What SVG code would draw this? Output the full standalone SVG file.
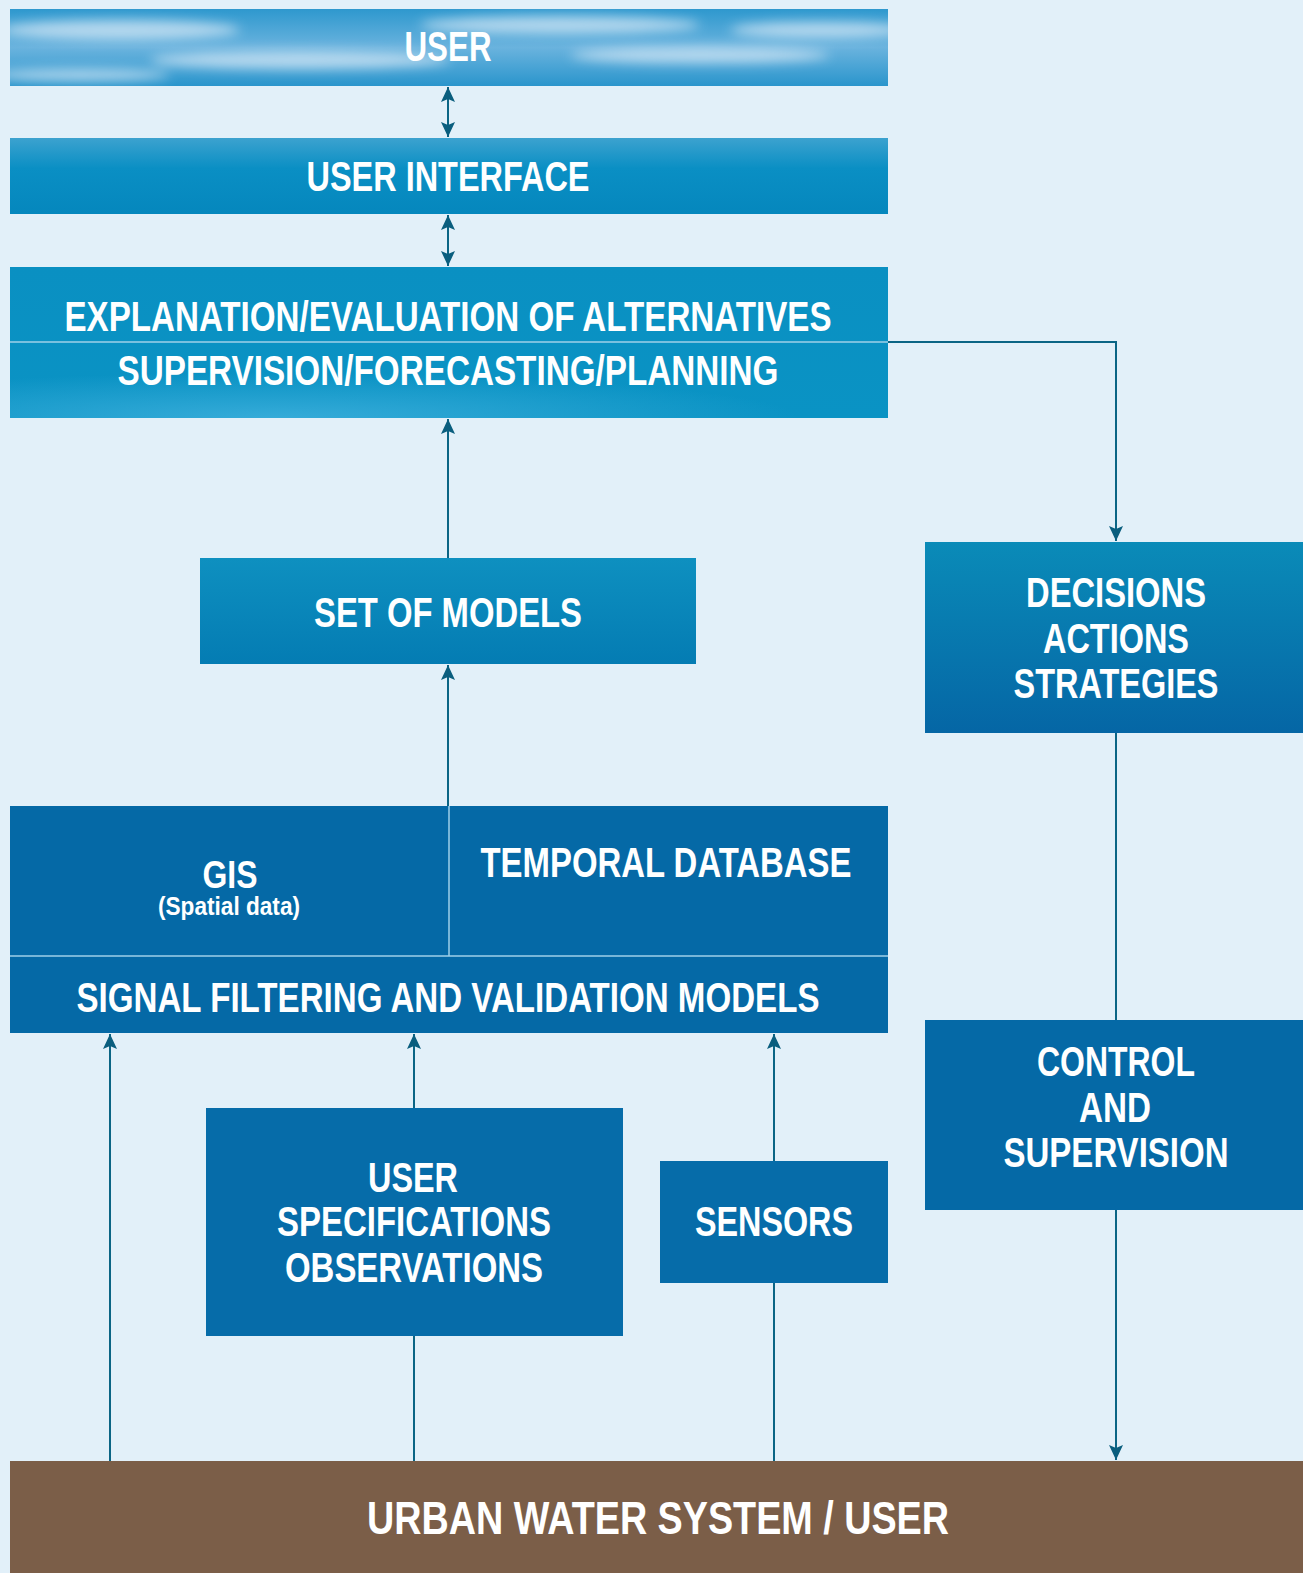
<svg xmlns="http://www.w3.org/2000/svg" width="1303" height="1573" viewBox="0 0 1303 1573">
<style>
.t{fill:#fff;font-family:"Liberation Sans",Arial,sans-serif;font-weight:bold;text-anchor:middle}
.big{font-size:42px}
.con{fill:none;stroke:#0B6585;stroke-width:2}
.div{stroke:#9FD0E8;stroke-width:1.5}
</style>
<defs>
<marker id="ah" viewBox="0 0 15 18" refX="15" refY="9" markerWidth="15" markerHeight="18" markerUnits="userSpaceOnUse" orient="auto-start-reverse">
<path d="M0,2 L15,9 L0,16 L3,9 Z" fill="#0A5E7E"/>
</marker>
<linearGradient id="gSky" x1="0" y1="0" x2="0" y2="1">
<stop offset="0" stop-color="#2E98CE"/><stop offset="0.5" stop-color="#6AB3DE"/><stop offset="1" stop-color="#2A95CC"/>
</linearGradient>
<linearGradient id="gUI" x1="0" y1="0" x2="0" y2="1">
<stop offset="0" stop-color="#3CA2CF"/><stop offset="0.4" stop-color="#0A8FC4"/><stop offset="1" stop-color="#0587BD"/>
</linearGradient>
<linearGradient id="gExp" x1="0" y1="0" x2="0" y2="1">
<stop offset="0" stop-color="#0A90C2"/><stop offset="1" stop-color="#0A93C4"/>
</linearGradient>
<radialGradient id="gExpHi" cx="0.3" cy="1" r="0.6" fx="0.3" fy="1" gradientTransform="translate(0.3,1) scale(1,0.5) translate(-0.3,-1)">
<stop offset="0" stop-color="#3AAEDB" stop-opacity="0.9"/><stop offset="1" stop-color="#3AAEDB" stop-opacity="0"/>
</radialGradient>
<linearGradient id="gSet" x1="0" y1="0" x2="0" y2="1">
<stop offset="0" stop-color="#0E90C0"/><stop offset="1" stop-color="#047CB3"/>
</linearGradient>
<linearGradient id="gDec" x1="0" y1="0" x2="0" y2="1">
<stop offset="0" stop-color="#0A8BB8"/><stop offset="1" stop-color="#0566A5"/>
</linearGradient>
<filter id="blur" x="-20%" y="-50%" width="140%" height="200%"><feGaussianBlur stdDeviation="6"/></filter>
<clipPath id="cSky"><rect x="10" y="9" width="878" height="77"/></clipPath>
</defs>
<rect width="1303" height="1573" fill="#E2F0F9"/>

<g id="user">
<rect x="10" y="9" width="878" height="77" fill="url(#gSky)"/>
<g clip-path="url(#cSky)" filter="url(#blur)" fill="#D6E8F6" opacity="0.75">
<ellipse cx="120" cy="30" rx="120" ry="10"/>
<ellipse cx="300" cy="60" rx="150" ry="9"/>
<ellipse cx="560" cy="25" rx="140" ry="9"/>
<ellipse cx="700" cy="55" rx="130" ry="8"/>
<ellipse cx="820" cy="30" rx="90" ry="8"/>
<ellipse cx="80" cy="75" rx="90" ry="6"/>
</g>
<text class="t big" x="448" y="61" textLength="87" lengthAdjust="spacingAndGlyphs">USER</text>
</g>

<g id="user-interface">
<rect x="10" y="138" width="878" height="76" fill="url(#gUI)"/>
<text class="t big" x="448" y="191" textLength="283" lengthAdjust="spacingAndGlyphs">USER INTERFACE</text>
</g>

<g id="explanation">
<rect x="10" y="267" width="878" height="151" fill="url(#gExp)"/>
<rect x="10" y="267" width="878" height="151" fill="url(#gExpHi)"/>
<line class="div" x1="10" y1="342" x2="888" y2="342"/>
<text class="t big" x="448" y="331" textLength="767" lengthAdjust="spacingAndGlyphs">EXPLANATION/EVALUATION OF ALTERNATIVES</text>
<text class="t big" x="448" y="385" textLength="661" lengthAdjust="spacingAndGlyphs">SUPERVISION/FORECASTING/PLANNING</text>
</g>

<g id="set-of-models">
<rect x="200" y="558" width="496" height="106" fill="url(#gSet)"/>
<text class="t big" x="448" y="627" textLength="268" lengthAdjust="spacingAndGlyphs">SET OF MODELS</text>
</g>

<g id="decisions">
<rect x="925" y="542" width="378" height="191" fill="url(#gDec)"/>
<text class="t big" x="1116" y="607" textLength="180" lengthAdjust="spacingAndGlyphs">DECISIONS</text>
<text class="t big" x="1116" y="653" textLength="146" lengthAdjust="spacingAndGlyphs">ACTIONS</text>
<text class="t big" x="1116" y="698" textLength="205" lengthAdjust="spacingAndGlyphs">STRATEGIES</text>
</g>

<g id="gis-temporal">
<rect x="10" y="806" width="878" height="150" fill="#0569A6"/>
<line class="div" x1="449" y1="806" x2="449" y2="956"/>
<text class="t" x="230" y="888" font-size="38" textLength="55" lengthAdjust="spacingAndGlyphs">GIS</text>
<text class="t" x="229" y="915" font-size="25" textLength="142" lengthAdjust="spacingAndGlyphs">(Spatial data)</text>
<text class="t big" x="666" y="877" textLength="371" lengthAdjust="spacingAndGlyphs">TEMPORAL DATABASE</text>
</g>

<g id="signal-filtering">
<rect x="10" y="956" width="878" height="77" fill="#0569A6"/>
<line class="div" x1="10" y1="956" x2="888" y2="956"/>
<text class="t big" x="448" y="1012" textLength="743" lengthAdjust="spacingAndGlyphs">SIGNAL FILTERING AND VALIDATION MODELS</text>
</g>

<g id="control">
<rect x="925" y="1020" width="378" height="190" fill="#0569A6"/>
<text class="t big" x="1116" y="1076" textLength="158" lengthAdjust="spacingAndGlyphs">CONTROL</text>
<text class="t big" x="1115" y="1122" textLength="72" lengthAdjust="spacingAndGlyphs">AND</text>
<text class="t big" x="1116" y="1167" textLength="225" lengthAdjust="spacingAndGlyphs">SUPERVISION</text>
</g>

<g id="user-specifications">
<rect x="206" y="1108" width="417" height="228" fill="#066CA9"/>
<text class="t big" x="413" y="1192" textLength="90" lengthAdjust="spacingAndGlyphs">USER</text>
<text class="t big" x="414" y="1236" textLength="274" lengthAdjust="spacingAndGlyphs">SPECIFICATIONS</text>
<text class="t big" x="414" y="1282" textLength="258" lengthAdjust="spacingAndGlyphs">OBSERVATIONS</text>
</g>

<g id="sensors">
<rect x="660" y="1161" width="228" height="122" fill="#066CA9"/>
<text class="t big" x="774" y="1236" textLength="158" lengthAdjust="spacingAndGlyphs">SENSORS</text>
</g>

<g id="urban-water-system">
<rect x="10" y="1461" width="1293" height="112" fill="#7B5E48"/>
<text class="t" x="658" y="1534" font-size="46" textLength="582" lengthAdjust="spacingAndGlyphs">URBAN WATER SYSTEM / USER</text>
</g>

<g id="connectors">
<line class="con" x1="448" y1="87" x2="448" y2="137" marker-start="url(#ah)" marker-end="url(#ah)"/>
<line class="con" x1="448" y1="215" x2="448" y2="266" marker-start="url(#ah)" marker-end="url(#ah)"/>
<polyline class="con" points="888,342 1116,342 1116,541" marker-end="url(#ah)"/>
<line class="con" x1="448" y1="558" x2="448" y2="419" marker-end="url(#ah)"/>
<line class="con" x1="448" y1="806" x2="448" y2="665" marker-end="url(#ah)"/>
<line class="con" x1="1116" y1="733" x2="1116" y2="1020"/>
<line class="con" x1="1116" y1="1210" x2="1116" y2="1460" marker-end="url(#ah)"/>
<line class="con" x1="110" y1="1461" x2="110" y2="1034" marker-end="url(#ah)"/>
<line class="con" x1="414" y1="1108" x2="414" y2="1034" marker-end="url(#ah)"/>
<line class="con" x1="414" y1="1461" x2="414" y2="1336"/>
<line class="con" x1="774" y1="1161" x2="774" y2="1034" marker-end="url(#ah)"/>
<line class="con" x1="774" y1="1461" x2="774" y2="1283"/>
</g>
</svg>
